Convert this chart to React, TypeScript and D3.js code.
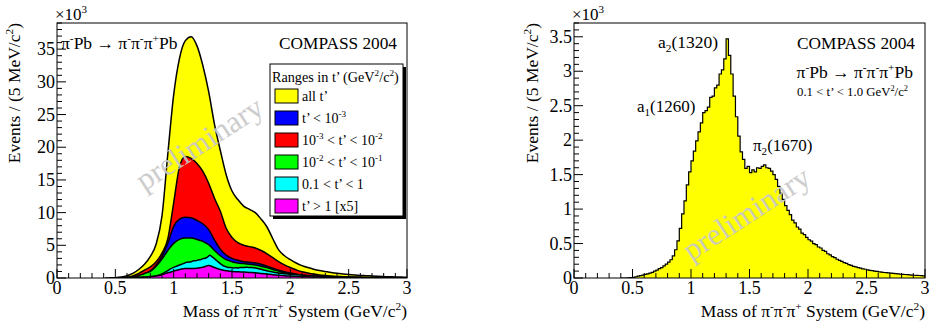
import { useEffect, useRef } from 'react'
import * as d3 from 'd3'

// Left panel: 3pi mass spectra in t' ranges (in units of 10^3 events / 5 MeV), read at 50 MeV steps
const leftMass = [
  0.45, 0.5, 0.55, 0.6, 0.65, 0.7, 0.75, 0.8, 0.85, 0.9, 0.95, 1.0, 1.05, 1.1, 1.15, 1.2, 1.25, 1.3,
  1.35, 1.4, 1.45, 1.5, 1.55, 1.6, 1.65, 1.7, 1.75, 1.8, 1.85, 1.9, 1.95, 2.0, 2.05, 2.1, 2.15, 2.2,
  2.25, 2.3, 2.35, 2.4, 2.45, 2.5, 2.55, 2.6, 2.65, 2.7, 2.75, 2.8, 2.85, 2.9, 2.95, 3.0,
]
const allT = [
  0, 0.05, 0.15, 0.35, 0.7, 1.3, 2.1, 3.3, 5.2, 9.5, 19, 28, 33.6, 36.3, 36.9, 35.5, 32.5, 28.5,
  23.5, 19.5, 15.8, 13.3, 12, 11, 10.5, 10, 9, 7.8, 6, 4.3, 3.4, 2.8, 2.3, 1.9, 1.6, 1.35,
  1.15, 1.0, 0.85, 0.72, 0.62, 0.53, 0.46, 0.4, 0.35, 0.3, 0.26, 0.22, 0.19, 0.16, 0.14, 0.12,
]
const tBelow1e3 = [
  0, 0, 0.01, 0.05, 0.15, 0.3, 0.6, 1.1, 2.0, 3.3, 5.3, 7.9, 9.0, 9.3, 9.2, 8.8, 8.3, 7.4,
  5.8, 4.4, 3.5, 3.0, 2.7, 2.5, 2.4, 2.3, 2.1, 1.8, 1.5, 1.2, 0.95, 0.75, 0.6, 0.45, 0.36, 0.28,
  0.22, 0.18, 0.15, 0.12, 0.1, 0.085, 0.07, 0.06, 0.05, 0.042, 0.036, 0.03, 0.025, 0.02, 0.017, 0.015,
]
const t1e3to1e2 = [
  0, 0, 0.02, 0.1, 0.3, 0.7, 1.2, 1.7, 2.5, 3.8, 6, 11.5, 17, 18.6, 18.3, 17.5, 16.3, 14.5,
  12.2, 10.2, 7.6, 6.2, 5.4, 5.0, 4.8, 4.6, 4.2, 3.7, 3.1, 2.5, 2.0, 1.6, 1.25, 0.95, 0.75, 0.6,
  0.47, 0.37, 0.3, 0.24, 0.2, 0.16, 0.13, 0.11, 0.09, 0.075, 0.06, 0.05, 0.04, 0.035, 0.03, 0.025,
]
const t1e2to1e1 = [
  0, 0, 0.01, 0.05, 0.15, 0.35, 0.7, 1.0, 1.8, 2.9, 4.2, 5.3, 5.9, 6.1, 6.1, 5.9, 5.6, 5.1,
  4.2, 3.4, 2.8, 2.5, 2.3, 2.2, 2.1, 2.0, 1.8, 1.6, 1.3, 1.05, 0.8, 0.6, 0.47, 0.35, 0.28, 0.22,
  0.17, 0.14, 0.11, 0.09, 0.075, 0.06, 0.05, 0.04, 0.035, 0.03, 0.025, 0.02, 0.018, 0.015, 0.012, 0.01,
]
const tAbove1x5 = [
  0, 0, 0.01, 0.02, 0.03, 0.05, 0.1, 0.2, 0.3, 0.5, 0.8, 1.05, 1.3, 1.45, 1.45, 1.5, 1.65, 1.9,
  1.6, 1.3, 1.1, 1.0, 0.95, 0.9, 0.85, 0.8, 0.7, 0.6, 0.5, 0.42, 0.35, 0.3, 0.26, 0.22, 0.19, 0.16,
  0.14, 0.12, 0.1, 0.09, 0.08, 0.07, 0.06, 0.05, 0.045, 0.04, 0.035, 0.03, 0.025, 0.02, 0.018, 0.015,
]

// 0.1 < t' < 1 spectrum (10^3 events / 5 MeV), 20 MeV bins starting at 0.40 GeV
const binStart = 0.4
const binWidth = 0.02
const t01to1 = [
  0, 0, 0, 0.002, 0.005, 0.01, 0.018, 0.026, 0.034, 0.042,
  0.052, 0.06, 0.07, 0.082, 0.1, 0.115, 0.135, 0.15, 0.175, 0.2,
  0.23, 0.265, 0.32, 0.41, 0.54, 0.72, 0.93, 1.12, 1.35, 1.54,
  1.7, 1.84, 1.99, 2.12, 2.25, 2.4, 2.43, 2.48, 2.62, 2.64,
  2.76, 2.8, 2.96, 3.02, 3.18, 3.47, 3.23, 2.96, 2.64, 2.34,
  2.06, 1.83, 1.72, 1.59, 1.62, 1.53, 1.57, 1.54, 1.6, 1.59,
  1.62, 1.64, 1.6, 1.59, 1.55, 1.5, 1.43, 1.33, 1.23, 1.14,
  1.05, 0.98, 0.92, 0.84, 0.8, 0.74, 0.71, 0.65, 0.63, 0.59,
  0.555, 0.535, 0.5, 0.485, 0.45, 0.435, 0.4, 0.385, 0.352, 0.335,
  0.31, 0.296, 0.272, 0.255, 0.241, 0.224, 0.212, 0.193, 0.184, 0.17,
  0.162, 0.15, 0.143, 0.132, 0.127, 0.119, 0.112, 0.106, 0.1, 0.096,
  0.09, 0.086, 0.08, 0.078, 0.073, 0.07, 0.066, 0.064, 0.06, 0.057,
  0.054, 0.051, 0.049, 0.045, 0.043, 0.04, 0.038, 0.036, 0.034, 0.032,
]

const xTicks = [0, 0.5, 1, 1.5, 2, 2.5, 3]
const leftYTicks = [0, 5, 10, 15, 20, 25, 30, 35]
const rightYTicks = [0, 0.5, 1, 1.5, 2, 2.5, 3, 3.5]

type Part = [string, number?]
const FONT = 'Liberation Serif'

// text with super (1) / subscript (-1) pieces
function rich(g: any, x: number, y: number, parts: Part[], fs: number, anchor = 'start') {
  const t = g
    .append('text')
    .attr('x', x)
    .attr('y', y)
    .attr('text-anchor', anchor)
    .attr('font-family', FONT)
    .attr('font-size', fs)
  let cur = 0
  for (const [s, k = 0] of parts) {
    const off = k === 1 ? -0.4 * fs : k === -1 ? 0.25 * fs : 0
    const ts = t.append('tspan').attr('dy', off - cur).text(s)
    if (k) ts.attr('font-size', 0.65 * fs)
    cur = off
  }
  return t
}

const App = () => {
  const ref = useRef<SVGSVGElement>(null)

  useEffect(() => {
    if (!ref.current) return
    const svg = d3.select(ref.current)
    svg.selectAll('*').remove()

    const panels = [
      { x0: 57, x1: 407, yMax: 39, yMajor: leftYTicks, yMinor: 1, titleX: 20 },
      { x0: 574, x1: 925, yMax: 3.7, yMajor: rightYTicks, yMinor: 0.1, titleX: 538 },
    ]
    const top = 23
    const bottom = 278

    const scales = panels.map((p, pi) => {
      const x = d3.scaleLinear().domain([0, 3]).range([p.x0, p.x1])
      const y = d3.scaleLinear().domain([0, p.yMax]).range([bottom, top])
      const clipId = `clip${pi}`
      svg
        .append('clipPath')
        .attr('id', clipId)
        .append('rect')
        .attr('x', p.x0)
        .attr('y', top)
        .attr('width', p.x1 - p.x0)
        .attr('height', bottom - top)
      return { x, y, clipId, p }
    })

    // ---- left panel histograms (overlaid, largest first)
    {
      const { x, y, clipId } = scales[0]
      const hg = svg.append('g').attr('clip-path', `url(#${clipId})`)
      const binCenters = t01to1.map((_, i) => binStart + binWidth * (i + 0.5))
      const series = [
        { m: leftMass, v: allT, c: '#ffff00' },
        { m: leftMass, v: t1e3to1e2, c: '#ff0000' },
        { m: leftMass, v: tBelow1e3, c: '#0000ff' },
        { m: leftMass, v: t1e2to1e1, c: '#00ff00' },
        { m: binCenters, v: t01to1, c: '#00ffff' },
        { m: leftMass, v: tAbove1x5, c: '#ff00ff' },
      ]
      series.forEach((s) => {
        const pts = s.m.map((m, i) => [m, s.v[i]] as [number, number])
        const area = d3
          .area<[number, number]>()
          .x((d) => x(d[0]))
          .y0(y(0))
          .y1((d) => y(d[1]))
          .curve(d3.curveMonotoneX)
        const line = d3
          .line<[number, number]>()
          .x((d) => x(d[0]))
          .y((d) => y(d[1]))
          .curve(d3.curveMonotoneX)
        hg.append('path').attr('d', area(pts)).attr('fill', s.c)
        hg.append('path')
          .attr('d', line(pts))
          .attr('fill', 'none')
          .attr('stroke', '#000')
          .attr('stroke-width', 1.5)
      })
    }

    // ---- right panel histogram (steps)
    {
      const { x, y, clipId } = scales[1]
      const hg = svg.append('g').attr('clip-path', `url(#${clipId})`)
      const pts = t01to1.map((v, i) => [binStart + binWidth * i, v] as [number, number])
      pts.push([3, t01to1[t01to1.length - 1]])
      const area = d3
        .area<[number, number]>()
        .x((d) => x(d[0]))
        .y0(y(0))
        .y1((d) => y(d[1]))
        .curve(d3.curveStepAfter)
      const line = d3
        .line<[number, number]>()
        .x((d) => x(d[0]))
        .y((d) => y(d[1]))
        .curve(d3.curveStepAfter)
      hg.append('path').attr('d', area(pts)).attr('fill', '#ffff00')
      hg.append('path')
        .attr('d', line(pts))
        .attr('fill', 'none')
        .attr('stroke', '#000')
        .attr('stroke-width', 1.2)
    }

    // ---- watermarks
    const marks = [
      [205, 152],
      [752, 222],
    ]
    marks.forEach(([cx, cy]) => {
      svg
        .append('text')
        .attr('transform', `translate(${cx},${cy}) rotate(-33)`)
        .attr('text-anchor', 'middle')
        .attr('font-family', FONT)
        .attr('font-size', 31)
        .attr('fill', '#c8c8c8')
        .attr('opacity', 0.9)
        .text('preliminary')
    })

    // ---- frames, ticks, labels
    scales.forEach(({ x, y, p }) => {
      const ag = svg.append('g')
      ag.append('rect')
        .attr('x', p.x0)
        .attr('y', top)
        .attr('width', p.x1 - p.x0)
        .attr('height', bottom - top)
        .attr('fill', 'none')
        .attr('stroke', '#000')
        .attr('stroke-width', 1)

      const xMinor = d3.range(0, 30.5, 1).map((d) => d / 10)
      xMinor.forEach((m) => {
        const major = Math.abs(m * 2 - Math.round(m * 2)) < 1e-6
        ag.append('line')
          .attr('x1', x(m))
          .attr('x2', x(m))
          .attr('y1', bottom)
          .attr('y2', bottom - (major ? 9 : 5))
          .attr('stroke', '#000')
      })
      const nMinor = Math.round(p.yMax / p.yMinor)
      const step = p.yMajor[1] - p.yMajor[0]
      d3.range(0, nMinor + 1).forEach((i) => {
        const v = i * p.yMinor
        const major = Math.abs(v / step - Math.round(v / step)) < 1e-6
        ag.append('line')
          .attr('x1', p.x0)
          .attr('x2', p.x0 + (major ? 9 : 5))
          .attr('y1', y(v))
          .attr('y2', y(v))
          .attr('stroke', '#000')
      })

      xTicks.forEach((t) => {
        rich(ag, x(t), 294, [[String(t)]], 18, 'middle')
      })
      p.yMajor.forEach((t) => {
        rich(ag, p.x0 - 2, y(t) + 6, [[String(t)]], 18, 'end')
      })

      rich(ag, p.x0 - 2, 20, [['×10'], ['3', 1]], 17)

      rich(
        ag,
        p.x1,
        317,
        [['Mass of π'], ['-', 1], ['π'], ['-', 1], ['π'], ['+', 1], [' System (GeV/c'], ['2', 1], [')']],
        17.5,
        'end'
      )
      const yt = ag.append('g').attr('transform', `translate(${p.titleX},${top}) rotate(-90)`)
      rich(yt, 0, 0, [['Events / (5 MeV/c'], ['2', 1], [')']], 17.5, 'end')
    })

    // ---- left panel annotations
    const L = svg.append('g')
    rich(L, 61, 49, [['π'], ['-', 1], ['Pb → π'], ['-', 1], ['π'], ['-', 1], ['π'], ['+', 1], ['Pb']], 17.5)
    rich(L, 397, 49, [['COMPASS 2004']], 17.3, 'end')

    // legend
    const lx = 270
    const ly = 64
    const lw = 133
    const lh = 152
    L.append('rect').attr('x', lx + 3).attr('y', ly + 3).attr('width', lw).attr('height', lh).attr('fill', '#000')
    L.append('rect')
      .attr('x', lx)
      .attr('y', ly)
      .attr('width', lw)
      .attr('height', lh)
      .attr('fill', '#fff')
      .attr('stroke', '#000')
    rich(L, lx + 2, 82, [['Ranges in t’ (GeV'], ['2', 1], ['/c'], ['2', 1], [')']], 14.2)
    const legend: { c: string; parts: Part[] }[] = [
      { c: '#ffff00', parts: [['all t’']] },
      { c: '#0000ff', parts: [['t’ < 10'], ['-3', 1]] },
      { c: '#ff0000', parts: [['10'], ['-3', 1], [' < t’ < 10'], ['-2', 1]] },
      { c: '#00ff00', parts: [['10'], ['-2', 1], [' < t’ < 10'], ['-1', 1]] },
      { c: '#00ffff', parts: [['0.1 < t’ < 1']] },
      { c: '#ff00ff', parts: [['t’ > 1 [x5]']] },
    ]
    legend.forEach((e, i) => {
      const cy = 96 + i * 22
      L.append('rect')
        .attr('x', 275)
        .attr('y', cy - 7)
        .attr('width', 23)
        .attr('height', 14)
        .attr('fill', e.c)
        .attr('stroke', '#000')
      rich(L, 302, cy + 5, e.parts, 14)
    })

    // ---- right panel annotations
    const R = svg.append('g')
    rich(R, 915, 49, [['COMPASS 2004']], 17.3, 'end')
    rich(R, 913, 78, [['π'], ['-', 1], ['Pb → π'], ['-', 1], ['π'], ['-', 1], ['π'], ['+', 1], ['Pb']], 17.5, 'end')
    rich(R, 908, 96, [['0.1 < t’ < 1.0 GeV'], ['2', 1], ['/c'], ['2', 1]], 12.8, 'end')
    rich(R, 658, 48, [['a'], ['2', -1], ['(1320)']], 17.5)
    rich(R, 637, 112, [['a'], ['1', -1], ['(1260)']], 17)
    rich(R, 753, 151, [['π'], ['2', -1], ['(1670)']], 17)
  }, [])

  return (
    <svg
      ref={ref}
      width={932}
      height={324}
      style={{ position: 'absolute', left: 0, top: 0, background: '#fff', fontFamily: FONT }}
    />
  )
}

export default App
